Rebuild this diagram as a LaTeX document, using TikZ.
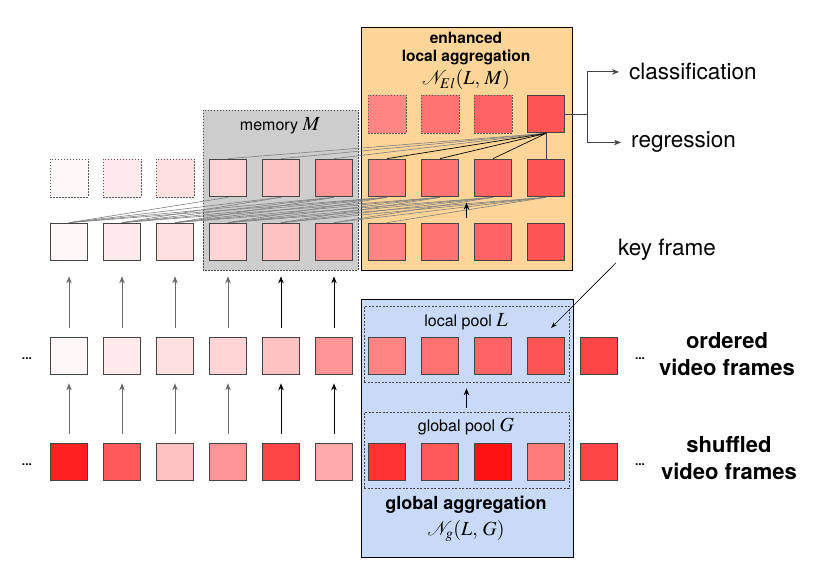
\documentclass[tikz,border=0pt]{standalone}
\usepackage{mathptmx}
\usepackage[no-math]{fontspec}
\setmainfont{TeX Gyre Heros}
\usepackage{xcolor}
\usetikzlibrary{arrows.meta,calc}
\definecolor{aggbg}{HTML}{FDD598}
\definecolor{membg}{HTML}{CDCDCD}
\definecolor{glbbg}{HTML}{C9DAF8}
\definecolor{frmline}{HTML}{444444}
\newcommand{\bigmath}[1]{{\fontsize{20}{22}\selectfont$#1$}}
\tikzset{
  frm/.style={draw=frmline,line width=1.2pt,minimum size=37.5pt,inner sep=0pt},
  ghost/.style={draw=frmline!90,line width=0.8pt,dash pattern=on 1.5pt off 1.5pt,minimum size=38pt,inner sep=0pt},
  pool/.style={draw=frmline,line width=0.6pt,dash pattern=on 2pt off 1.5pt,minimum width=205pt,minimum height=76pt,inner sep=0pt},
  link/.style={gray,line width=0.6pt},
  keylink/.style={black,line width=0.7pt},
  arr/.style={-{Stealth[length=7pt,width=5.5pt]},line width=0.9pt},
  big/.style={font=\fontsize{22.5}{27}\selectfont,inner sep=2pt},
  mid/.style={font=\fontsize{16}{18}\selectfont,inner sep=0pt},
}
\begin{document}
\begin{tikzpicture}[x=1pt,y=-1pt]
\useasboundingbox (0,0) rectangle (818,569);
\draw[fill=aggbg,line width=0.8pt] (361,27) rectangle (572,270);
\draw[fill=membg,draw=frmline,line width=0.7pt,dash pattern=on 1.5pt off 1.5pt] (203,110) rectangle (358,270);
\draw[fill=glbbg,line width=0.8pt] (361,299) rectangle (573,557);
\node[pool] (lp) at (466.5,344) {};
\node[pool] (gp) at (466.5,450) {};

\foreach \i/\p in {0/3,1/8,2/12,3/17,4/24,5/42,6/48,7/55,8/61,9/67,10/73}{
  \node[frm,fill=red!\p] (o\i) at (69+53*\i,356) {};
  \ifnum\i<10
    \node[frm,fill=red!\p] (f\i) at (69+53*\i,242) {};
    \ifnum\i<3 \node[ghost,fill=red!\p] (m\i) at (69+53*\i,178) {};
    \else \node[frm,fill=red!\p] (m\i) at (69+53*\i,178) {}; \fi
  \fi
  \ifnum\i>5 \ifnum\i<9 \node[ghost,fill=red!\p] (k\i) at (69+53*\i,114) {}; \fi \fi
}
\node[frm,fill=red!67] (k9) at (546,114) {};
\foreach \i/\p in {0/87,1/65,2/24,3/42,4/73,5/33,6/80,7/65,8/93,9/52,10/73}
  \node[frm,fill=red!\p] (s\i) at (69+53*\i,462) {};

\foreach \j in {3,...,9}{
  \foreach \d in {3,...,6}{
    \pgfmathtruncatemacro\i{\j-\d}
    \ifnum\i>-1 \draw[link] (m\j.south) -- (f\i.north); \fi
  }
}
\foreach \j in {3,4,5} \draw[link] (k9.south) -- (m\j.north);
\foreach \j in {6,7,8} \draw[keylink] (k9.south) -- (m\j.north);
\draw[keylink,frmline] (k9.south) -- (m9.north);
\draw[arr] ($(f7.north)!.5!(f8.north)+(0,-5)$) -- ++(0,-15);
\foreach \i in {0,...,5}{
  \ifnum\i<4 \def\c{frmline!80} \else \def\c{black} \fi
  \draw[arr,\c,shorten <=9pt,shorten >=8pt] (s\i.north) -- (o\i.south);
  \draw[arr,\c,shorten <=9pt,shorten >=15pt] (o\i.north) -- (f\i.south);
}
\draw[arr,shorten <=4pt,shorten >=6pt] (gp.north) -- (lp.south);

\node[mid,font=\bfseries\fontsize{15.5}{18}\selectfont,align=center] (eltitle) at (466,49) {enhanced\\local aggregation};
\node[mid] (elform) at (466,80) {\bigmath{\mathcal{N}_{El}(L,\,M)}};
\node[mid] (memlbl) at (280,126) {memory \bigmath{M}};
\node[mid] (lplbl) at (466,322) {local pool \bigmath{L}};
\node[mid] (gplbl) at (466,427) {global pool \bigmath{G}};
\node[mid,font=\bfseries\fontsize{18}{20}\selectfont] (gatitle) at (466,505) {global aggregation};
\node[mid] (gaform) at (466,531) {\bigmath{\mathcal{N}_{g}(L,\,G)}};

\node[big,anchor=base west] (cls) at (627,80) {classification};
\node[big,anchor=base west] (reg) at (629,148) {regression};
\draw[line width=0.9pt,frmline] (k9.east) -- ++(22,0) coordinate (br);
\draw[arr,frmline,shorten >=8pt] (br) |- (cls.west);
\draw[arr,frmline,shorten >=8pt] (br) |- (reg.west);

\node[big] (kflbl) at (667,250) {key frame};
\coordinate (kftip) at (551,328);
\draw[arr,line width=0.6pt,-{Stealth[length=6pt,width=4pt]}] (kflbl.south west) -- (kftip);

\node[big,font=\bfseries\fontsize{22}{27}\selectfont,align=center,inner sep=0pt] (ordlbl) at (727,354) {ordered\\video frames};
\node[big,font=\bfseries\fontsize{22}{27}\selectfont,align=center,inner sep=0pt] (shflbl) at (729,458) {shuffled\\video frames};
\node[font=\bfseries\fontsize{12}{14}\selectfont,anchor=base,inner sep=0pt] (ldots1) at (27,359) {...};
\node[font=\bfseries\fontsize{12}{14}\selectfont,anchor=base,inner sep=0pt] (ldots2) at (27,465) {...};
\node[font=\bfseries\fontsize{12}{14}\selectfont,anchor=base,inner sep=0pt] (rdots1) at (640,359) {...};
\node[font=\bfseries\fontsize{12}{14}\selectfont,anchor=base,inner sep=0pt] (rdots2) at (640,465) {...};
\end{tikzpicture}
\end{document}
